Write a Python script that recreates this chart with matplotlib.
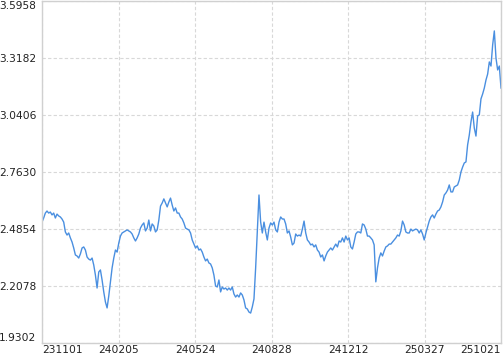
import matplotlib
matplotlib.use('Agg')
import matplotlib.pyplot as plt
import numpy as np

# net value, every trading-day pair
nav = [
    2.519, 2.539, 2.563, 2.573, 2.563, 2.568, 2.554, 2.563, 2.539, 2.558,
    2.549, 2.544, 2.534, 2.519, 2.471, 2.456, 2.466, 2.442, 2.422, 2.393,
    2.359, 2.354, 2.344, 2.364, 2.393, 2.398, 2.383, 2.349, 2.339, 2.334,
    2.344, 2.310, 2.261, 2.198, 2.276, 2.286, 2.237, 2.179, 2.130, 2.101,
    2.159, 2.228, 2.296, 2.344, 2.383, 2.373, 2.417, 2.451, 2.466, 2.471,
    2.476, 2.481, 2.476, 2.471, 2.461, 2.442, 2.427, 2.442, 2.461, 2.490,
    2.505, 2.515, 2.476, 2.490, 2.529, 2.476, 2.510, 2.500, 2.471, 2.481,
    2.529, 2.597, 2.612, 2.632, 2.612, 2.593, 2.617, 2.636, 2.602, 2.573,
    2.588, 2.563, 2.563, 2.544, 2.534, 2.515, 2.490, 2.485, 2.481, 2.466,
    2.432, 2.412, 2.393, 2.403, 2.383, 2.388, 2.373, 2.349, 2.330, 2.339,
    2.320, 2.315, 2.296, 2.261, 2.208, 2.203, 2.237, 2.179, 2.203, 2.193,
    2.198, 2.188, 2.198, 2.188, 2.203, 2.169, 2.154, 2.164, 2.154, 2.174,
    2.164, 2.140, 2.101, 2.096, 2.081, 2.076, 2.106, 2.145, 2.296, 2.471,
    2.651, 2.519, 2.466, 2.519, 2.471, 2.432, 2.490, 2.515, 2.505, 2.519,
    2.481, 2.471, 2.519, 2.544, 2.534, 2.534, 2.510, 2.466, 2.476, 2.446,
    2.408, 2.417, 2.461, 2.451, 2.456, 2.451, 2.485, 2.524, 2.466, 2.432,
    2.422, 2.408, 2.412, 2.398, 2.408, 2.383, 2.373, 2.349, 2.359, 2.330,
    2.354, 2.373, 2.383, 2.393, 2.383, 2.398, 2.412, 2.398, 2.427, 2.422,
    2.442, 2.422, 2.451, 2.432, 2.442, 2.398, 2.388, 2.422, 2.461, 2.471,
    2.471, 2.466, 2.510, 2.505, 2.485, 2.451, 2.451, 2.442, 2.432, 2.408,
    2.228, 2.296, 2.344, 2.369, 2.354, 2.378, 2.398, 2.403, 2.412, 2.412,
    2.422, 2.432, 2.442, 2.456, 2.451, 2.476, 2.524, 2.505, 2.471, 2.466,
    2.466, 2.485, 2.476, 2.481, 2.485, 2.481, 2.466, 2.481, 2.461, 2.432,
    2.466, 2.495, 2.524, 2.544, 2.554, 2.539, 2.558, 2.573, 2.578, 2.593,
    2.617, 2.651, 2.661, 2.675, 2.700, 2.666, 2.666, 2.690, 2.695, 2.700,
    2.724, 2.763, 2.787, 2.807, 2.812, 2.895, 2.943, 3.007, 3.055, 2.977,
    2.938, 3.036, 3.041, 3.119, 3.143, 3.172, 3.211, 3.240, 3.299, 3.279,
    3.382, 3.450, 3.318, 3.260, 3.279, 3.172,
]
date_labels = ['231101', '240205', '240524', '240828', '241212', '250327', '251021']
y_ticks = [1.9302, 2.2078, 2.4854, 2.7630, 3.0406, 3.3182, 3.5958]

x = np.arange(len(nav))

fig = plt.figure(figsize=(5.03, 3.55), dpi=100)
ax = fig.add_axes([42/503, 12/355, 459/503, 342/355])

ax.plot(x, nav, color='#4a8fe0', lw=1.0)

ax.set_xlim(0, len(nav) - 1)
ax.set_ylim(y_ticks[0], y_ticks[-1])

ax.set_xticks(np.linspace(0, len(nav) - 1, len(date_labels)))
ax.set_xticklabels(date_labels)
ax.set_yticks(y_ticks)
ax.set_yticklabels(['%.4f' % v for v in y_ticks])

ax.grid(True, color='#d8d8d8', ls=(0, (3, 2)), lw=0.8)
for s in ax.spines.values():
    s.set_color('#d0d0d0')
    s.set_linewidth(1.0)

ax.tick_params(length=0, labelsize=7.7, colors='#222222')
ax.tick_params(axis='y', pad=4)
ax.tick_params(axis='x', pad=1.5)

xl = ax.get_xticklabels()
xl[0].set_ha('left')
xl[-1].set_ha('right')
yl = ax.get_yticklabels()
yl[0].set_va('bottom')
yl[-1].set_va('top')

fig.savefig('out.png', dpi=100)
